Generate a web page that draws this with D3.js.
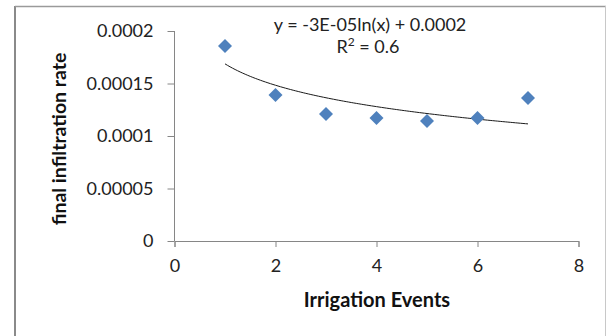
<!DOCTYPE html>
<html><head><meta charset="utf-8">
<script src="https://cdn.jsdelivr.net/npm/d3@7"></script>
<style>body{margin:0;background:#fff}svg{display:block}</style>
</head><body>
<script>
const events = [1, 2, 3, 4, 5, 6, 7];
const rates = [0.0001857, 0.000139, 0.000121, 0.0001171, 0.0001143, 0.0001171, 0.0001362];
const xTicks = [0, 2, 4, 6, 8];
const yTicks = [0, 0.00005, 0.0001, 0.00015, 0.0002];
const yTickLabels = ["0", "0.00005", "0.0001", "0.00015", "0.0002"];
const equationText = "y = -3E-05ln(x) + 0.0002";
const xTitle = "Irrigation Events";
const yTitle = "final infiltration rate";

const W = 607, H = 336;
const svg = d3.select("body").append("svg").attr("width", W).attr("height", H);
const font = "Lato, 'Open Sans', sans-serif";

// outer frame
svg.append("line").attr("x1",15).attr("x2",15).attr("y1",6).attr("y2",H).attr("stroke","#8a8a8a").attr("stroke-width",2);
svg.append("line").attr("x1",15).attr("x2",606).attr("y1",6.5).attr("y2",6.5).attr("stroke","#9a9a9a").attr("stroke-width",1.5);
svg.append("line").attr("x1",605.5).attr("x2",605.5).attr("y1",6).attr("y2",H).attr("stroke","#c8c8c8").attr("stroke-width",1);

const x = d3.scaleLinear().domain([0, 8]).range([174.5, 578.5]);
const y = d3.scaleLinear().domain([0, 0.0002]).range([241, 31]);

const axisColor = "#868686";
// y axis
const gy = svg.append("g").attr("transform", `translate(${x(0)},0)`)
  .call(d3.axisLeft(y).tickValues(yTicks).tickSize(7).tickPadding(14)
    .tickFormat((d,i) => yTickLabels[i]));
// x axis
const gx = svg.append("g").attr("transform", `translate(0,${y(0)})`)
  .call(d3.axisBottom(x).tickValues(xTicks).tickSize(6).tickPadding(12).tickFormat(d3.format("d")));
[gx, gy].forEach(g => {
  g.select(".domain").attr("stroke", axisColor);
  g.selectAll(".tick line").attr("stroke", axisColor);
  g.selectAll("text").attr("fill", "#222").attr("font-family", font).attr("font-size", 18);
});
gy.select(".domain").attr("d", `M0,${y(0.0002)}V${y(0)}`);

// trendline: least squares fit y = a ln(x) + b
const lx = events.map(Math.log);
const mx = d3.mean(lx), my = d3.mean(rates);
const a = d3.sum(lx.map((v,i) => (v-mx)*(rates[i]-my))) / d3.sum(lx.map(v => (v-mx)**2));
const b = my - a*mx;
const trendX = d3.range(1, 7.001, 0.05);
svg.append("path")
  .datum(trendX)
  .attr("d", d3.line().x(d => x(d)).y(d => y(a*Math.log(d)+b)))
  .attr("fill","none").attr("stroke","#1a1a1a").attr("stroke-width",1);

// points
svg.selectAll(".pt").data(events).enter().append("path")
  .attr("d", d3.symbol().type(d3.symbolDiamond2).size(125))
  .attr("transform", (d,i) => `translate(${x(d)},${y(rates[i])})`)
  .attr("fill", "#4F81BD");

// equation
svg.append("text").attr("x", 370).attr("y", 31).attr("text-anchor","middle")
  .attr("font-family", font).attr("font-size", 18).attr("fill","#222").text(equationText);
const r2 = svg.append("text").attr("x", 368).attr("y", 53).attr("text-anchor","middle")
  .attr("font-family", font).attr("font-size", 18).attr("fill","#222");
r2.append("tspan").text("R");
r2.append("tspan").attr("font-size", 12).attr("dy", -7).text("2");
r2.append("tspan").attr("dy", 7).text(" = 0.6");

// titles
svg.append("text").attr("x", 377).attr("y", 307).attr("text-anchor","middle")
  .attr("font-family", font).attr("font-weight","bold").attr("font-size", 20).attr("fill","#111").text(xTitle);
svg.append("text").attr("transform","translate(66,139) rotate(-90)").attr("text-anchor","middle")
  .attr("font-family", font).attr("font-weight","bold").attr("font-size", 19.5).attr("fill","#111").text(yTitle);
</script>
</body></html>
